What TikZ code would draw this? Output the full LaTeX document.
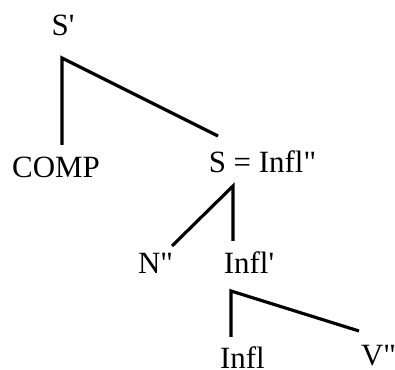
\documentclass[tikz,border=0pt]{standalone}
\usepackage{fontspec}
\setmainfont{Liberation Serif}
\usetikzlibrary{positioning}

\begin{document}
\begin{tikzpicture}[scale=1.0,line width=4.5pt,
  lab/.style={anchor=base,inner sep=0pt,font=\fontsize{44}{50}\selectfont}]
  \useasboundingbox (0.0,0.0) rectangle (19.75,18.45);
% labels
  \node[lab] (sbar) at (3.15,16.65) {S\textquotesingle};
  \node[lab] (comp) at (2.8,9.55) {COMP};
  \node[lab] (infl2) at (13.125,9.8) {S = Infl\textquotedbl};
  \node[lab] (n2) at (7.775,4.75) {N\textquotedbl};
  \node[lab] (infl1) at (12.45,4.75) {Infl\textquotesingle};
  \node[lab] (infl) at (12.125,0.05) {Infl};
  \node[lab] (v2) at (18.925,0.2) {V\textquotedbl};
% branch points and ends
  \coordinate (sbar-top) at (3.1,15.55);
  \coordinate (comp-end) at (3.1,11.2);
  \coordinate (infl2-end) at (10.9,11.65);
  \coordinate (infl2-top) at (11.65,9.15);
  \coordinate (n2-end) at (8.6,6.15);
  \coordinate (infl1-end) at (11.65,6.4);
  \coordinate (infl1-top) at (11.55,3.9);
  \coordinate (infl-end) at (11.55,1.6);
  \coordinate (v2-end) at (17.95,1.9);
% branches
  \draw (comp-end) -- (sbar-top) -- (infl2-end);
  \draw (n2-end) -- (infl2-top) -- (infl1-end);
  \draw (infl-end) -- (infl1-top) -- (v2-end);
\end{tikzpicture}
\end{document}
